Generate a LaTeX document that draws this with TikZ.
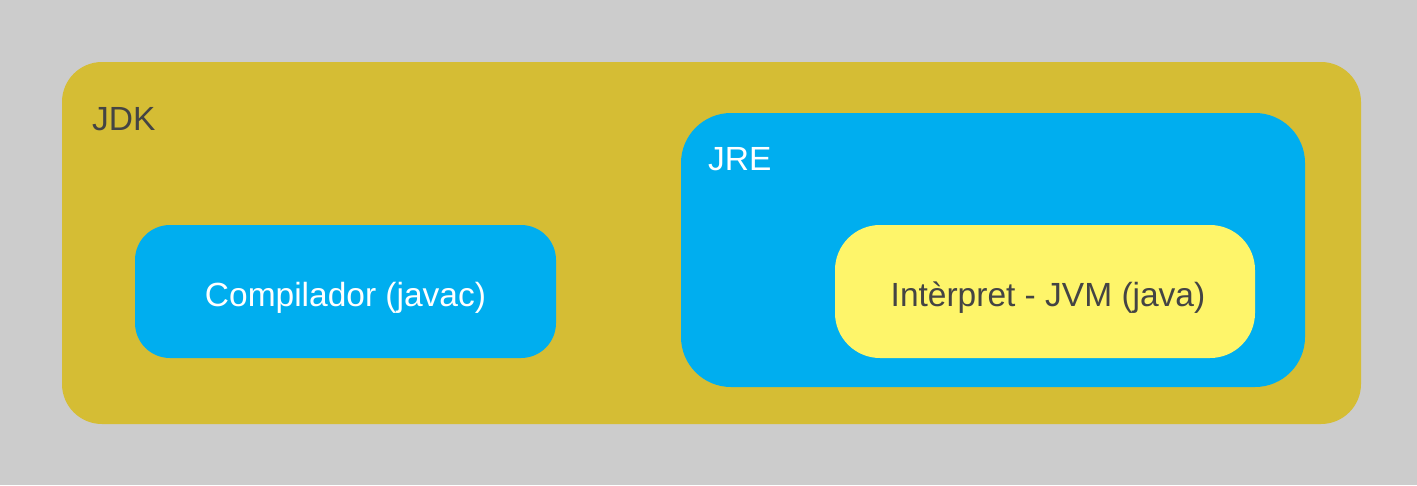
\documentclass[tikz,border=0pt]{standalone}
\usepackage{fontspec}
\setmainfont{Liberation Sans}
\definecolor{bg}{HTML}{CCCCCC}
\definecolor{jdk}{HTML}{D5BD34}
\definecolor{jre}{HTML}{00AEEF}
\definecolor{jvm}{HTML}{FEF56A}
\definecolor{dark}{HTML}{444444}
\begin{document}
\begin{tikzpicture}[x=1pt,y=-1pt,
  lbl/.style={font=\fontsize{33.5}{40}\selectfont, inner sep=0pt}]
\fill[bg] (0,0) rectangle (1417,485);
\useasboundingbox (0,0) rectangle (1417,485);
\fill[jdk, rounded corners=40pt] (62,62) rectangle (1361,424);
\node[lbl, text=dark, anchor=base west] (jdklbl) at (92,130) {JDK};
\fill[jre, rounded corners=50pt] (681,113) rectangle (1305,387);
\node[lbl, text=white, anchor=base west] (jrelbl) at (708,170) {JRE};
\fill[jre, rounded corners=35pt] (135,225) rectangle (556,358);
\node[lbl, text=white, anchor=base] (comp) at (345.5,306) {Compilador (javac)};
\fill[jvm, rounded corners=45pt] (835,225) rectangle (1255,358);
\node[lbl, text=dark, anchor=base] (jvmn) at (1048,306) {Intèrpret - JVM (java)};
\end{tikzpicture}
\end{document}
